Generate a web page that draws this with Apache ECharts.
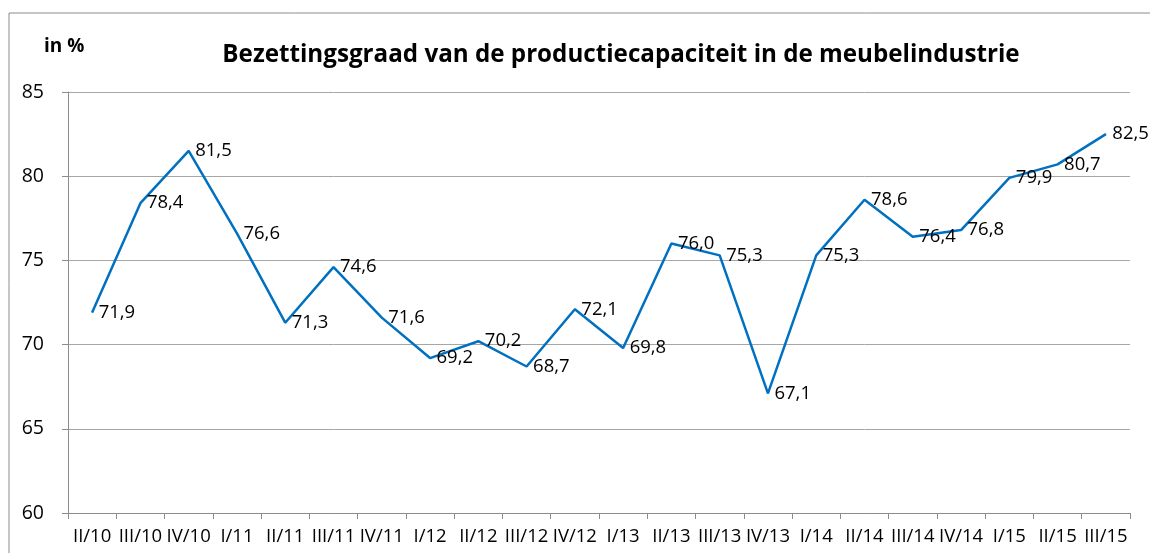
<!DOCTYPE html>
<html>
<head>
<meta charset="utf-8">
<script src="https://cdn.jsdelivr.net/npm/echarts@6/dist/echarts.min.js"></script>
<style>
  html, body { margin: 0; padding: 0; background: #fff; }
  #main { width: 1150px; height: 553px; }
</style>
</head>
<body>
<div id="main"></div>
<script>
var quarters = ['II/10', 'III/10', 'IV/10', 'I/11', 'II/11', 'III/11', 'IV/11', 'I/12', 'II/12', 'III/12', 'IV/12',
  'I/13', 'II/13', 'III/13', 'IV/13', 'I/14', 'II/14', 'III/14', 'IV/14', 'I/15', 'II/15', 'III/15'];
var bezetting = [71.9, 78.4, 81.5, 76.6, 71.3, 74.6, 71.6, 69.2, 70.2, 68.7, 72.1,
  69.8, 76.0, 75.3, 67.1, 75.3, 78.6, 76.4, 76.8, 79.9, 80.7, 82.5];

var myChart = echarts.init(document.getElementById('main'));
var fontName = 'Open Sans';

var option = {
  animation: false,
  backgroundColor: '#fff',
  textStyle: { fontFamily: fontName },
  title: {
    text: 'Bezettingsgraad van de productiecapaciteit in de meubelindustrie',
    left: 616,
    textAlign: 'center',
    top: 38,
    textStyle: { fontFamily: fontName, fontSize: 24.2, fontWeight: 'bold', color: '#000' }
  },
  graphic: [
    {
      type: 'rect',
      shape: { x: 9, y: 13, width: 1300, height: 700 },
      style: { fill: 'none', stroke: '#8c8c8c', lineWidth: 1 },
      silent: true
    },
    {
      type: 'text',
      left: 44,
      top: 37,
      style: { text: 'in %', font: 'bold 19px "Open Sans"', fill: '#000' }
    }
  ],
  grid: { left: 68, right: 20, top: 92, bottom: 40 },
  xAxis: {
    type: 'category',
    data: quarters,
    boundaryGap: true,
    axisLine: { lineStyle: { color: '#8c8c8c', width: 1 } },
    axisTick: { show: true, length: 6, lineStyle: { color: '#8c8c8c' } },
    axisLabel: { interval: 0, color: '#000', fontSize: 18.5, margin: 14, fontFamily: fontName }
  },
  yAxis: {
    type: 'value',
    min: 60,
    max: 85,
    interval: 5,
    axisLine: { show: true, lineStyle: { color: '#8c8c8c', width: 1 } },
    axisTick: { show: true, length: 6, lineStyle: { color: '#8c8c8c' } },
    axisLabel: { color: '#000', fontSize: 19.5, margin: 24, fontFamily: fontName },
    splitLine: { lineStyle: { color: '#a6a6a6', width: 1 } }
  },
  series: [
    {
      type: 'line',
      data: bezetting,
      symbol: 'circle',
      symbolSize: 1,
      showSymbol: true,
      lineStyle: { color: '#0070c0', width: 2.5 },
      itemStyle: { color: '#0070c0' },
      label: {
        show: true,
        position: 'right',
        distance: 6,
        color: '#000',
        fontSize: 18.5,
        fontFamily: fontName,
        formatter: function (p) { return p.value.toFixed(1).replace('.', ','); }
      }
    }
  ]
};
myChart.setOption(option);
</script>
</body>
</html>
